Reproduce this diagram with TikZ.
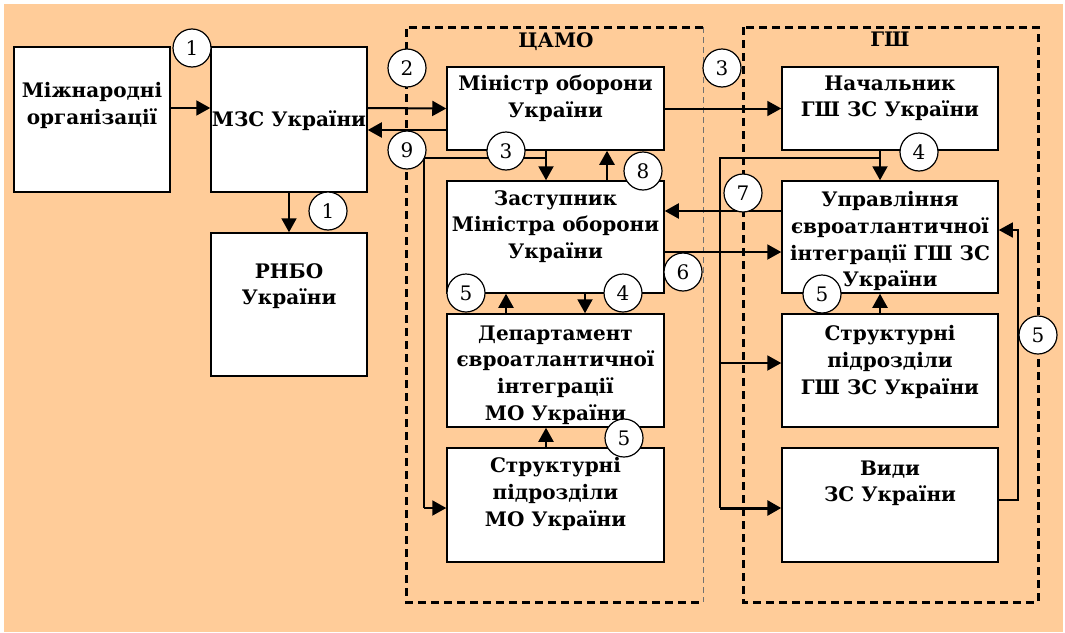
\documentclass[tikz,border=0pt]{standalone}
\usepackage{fontspec}
\setmainfont{DejaVu Serif}
\usetikzlibrary{arrows.meta}
\definecolor{peach}{HTML}{FFCC99}
\definecolor{framegray}{HTML}{707070}
\begin{document}
\begin{tikzpicture}[x=1pt,y=-1pt,
  box/.style={draw,line width=1.5pt,fill=white,inner sep=0pt,minimum width=217pt},
  boxtext/.style={anchor=north,inner sep=0pt,align=center,font=\bfseries\fontsize{20}{26.7}\selectfont},
  num/.style={circle,draw,line width=1.2pt,fill=white,minimum size=38pt,inner sep=0pt,font=\fontsize{20}{20}\selectfont},
  conn/.style={line width=2pt},
  arr/.style={line width=2pt,-{Triangle[length=14pt,width=15pt]}},
  arrthin/.style={line width=1.5pt,-{Triangle[length=14pt,width=15pt]}},
  frame/.style={line width=3pt,dash pattern=on 8pt off 5pt},
]
\useasboundingbox (0,0) rectangle (1065,632);
\fill[peach] (4,4) rectangle (1063,632);

% frames
\coordinate (camoTL) at (406,27);
\coordinate (camoTR) at (703,27);
\coordinate (camoBL) at (406,602);
\coordinate (camoBR) at (703,602);
\draw[framegray,line width=1pt,dash pattern=on 6pt off 4pt] (camoTR) -- (camoBR);
\draw[frame] (camoTR) -- (camoTL) -- (camoBL) -- (camoBR);
\coordinate (gshTL) at (743,27);
\coordinate (gshBR) at (1038,602);
\draw[frame] (gshTL) rectangle (gshBR);
\node[font=\bfseries\fontsize{20}{22}\selectfont,anchor=north,inner sep=0pt] (camoL) at (556,32) {ЦАМО};
\node[font=\bfseries\fontsize{20}{22}\selectfont,anchor=north,inner sep=0pt] (gshL) at (890,32) {ГШ};

% boxes
\node[box,minimum width=156pt,minimum height=145pt] (mi) at (92,119.5) {};
\node[box,minimum width=156pt,minimum height=145pt] (mzs) at (289,119.5) {};
\node[box,minimum width=156pt,minimum height=143pt] (rnbo) at (289,304.5) {};
\node[box,minimum height=83pt] (min) at (555.5,108.5) {};
\node[box,minimum height=112pt] (zast) at (555.5,237) {};
\node[box,minimum height=113pt] (dep) at (555.5,370.5) {};
\node[box,minimum height=114pt] (smo) at (555.5,505) {};
\node[box,minimum width=216pt,minimum height=83pt] (nach) at (890,108.5) {};
\node[box,minimum width=216pt,minimum height=112pt] (upr) at (890,237) {};
\node[box,minimum width=216pt,minimum height=113pt] (sgsh) at (890,370.5) {};
\node[box,minimum width=216pt,minimum height=114pt] (vydy) at (890,505) {};

% box texts
\node[boxtext] (miT) at ([yshift=-36pt]mi.north) {Міжнародні\\організації};
\node[boxtext] (mzsT) at ([yshift=-64pt]mzs.north) {МЗС України};
\node[boxtext] (rnboT) at ([yshift=-31pt]rnbo.north) {РНБО\\України};
\node[boxtext] (minT) at ([yshift=-9pt]min.north) {Міністр оборони\\України};
\node[boxtext] (zastT) at ([yshift=-10pt]zast.north) {Заступник\\Міністра оборони\\України};
\node[boxtext] (depT) at ([yshift=-12pt]dep.north) {Департамент\\євроатлантичної\\інтеграції\\МО України};
\node[boxtext] (smoT) at ([yshift=-10pt]smo.north) {Структурні\\підрозділи\\МО України};
\node[boxtext] (nachT) at ([yshift=-9pt]nach.north) {Начальник\\ГШ ЗС України};
\node[boxtext] (uprT) at ([yshift=-11pt]upr.north) {Управління\\євроатлантичної\\інтеграції ГШ ЗС\\України};
\node[boxtext] (sgshT) at ([yshift=-12pt]sgsh.north) {Структурні\\підрозділи\\ГШ ЗС України};
\node[boxtext] (vydyT) at ([yshift=-13pt]vydy.north) {Види\\ЗС України};

% connectors
\draw[arr] ([yshift=11.5pt]mi.east) -- ([yshift=11.5pt]mzs.west);
\draw[arr] (mzs.south) -- (rnbo.north);
\draw[arr] ([yshift=11.5pt]mzs.east) -- (min.west);
\draw[arr] ([yshift=-21.5pt]min.west) -- ([yshift=-10.5pt]mzs.east);
\draw[arr] ([xshift=-9.5pt]min.south) -- ([xshift=-9.5pt]zast.north);
\draw[conn] ([xshift=-9.5pt,yshift=-7pt]min.south) -| ([xshift=-22pt,yshift=-3pt]smo.west);
\draw[arr] ([xshift=-22pt,yshift=-3pt]smo.west) -- ([yshift=-3pt]smo.west);
\draw[arr,line width=2.5pt] ([xshift=51.5pt]zast.north) -- ([xshift=51.5pt]min.south);
\draw[arr] ([xshift=29.5pt]zast.south) -- ([xshift=29.5pt]dep.north);
\draw[arr] ([xshift=-49.5pt]dep.north) -- ([xshift=-49.5pt]zast.south);
\draw[arr] ([xshift=-9.5pt]smo.north) -- ([xshift=-9.5pt]dep.south);
\draw[arr] (min.east) -- (nach.west);
\draw[arr] ([xshift=-10pt]nach.south) -- ([xshift=-10pt]upr.north);
\draw[conn] ([xshift=-10pt,yshift=-7pt]nach.south) -| ([xshift=-61pt,yshift=-3pt]vydy.west);
\draw[arr,line width=3pt] ([xshift=-61pt,yshift=-3pt]vydy.west) -- ([yshift=-3pt]vydy.west);
\draw[arr] ([xshift=-61pt,yshift=7.5pt]sgsh.west) -- ([yshift=7.5pt]sgsh.west);
\draw[arr] ([yshift=26pt]upr.west) -- ([yshift=26pt]zast.east);
\draw[arr] ([yshift=-15pt]zast.east) -- ([yshift=-15pt]upr.west);
\draw[arr] ([xshift=-10pt]sgsh.north) -- ([xshift=-10pt]upr.south);
\draw[arrthin] ([yshift=5pt]vydy.east) -| ([xshift=19pt,yshift=7pt]upr.east) -- ([yshift=7pt]upr.east);

% number circles
\node[num] (c1a) at (192,48) {1};
\node[num] (c1b) at (328,211) {1};
\node[num] (c2) at (407,68) {2};
\node[num] (c9) at (407,150) {9};
\node[num] (c3a) at (506,151) {3};
\node[num] (c8) at (643,171) {8};
\node[num] (c6) at (683,272) {6};
\node[num] (c5a) at (466,293) {5};
\node[num] (c4a) at (623,293) {4};
\node[num] (c5b) at (624,438) {5};
\node[num] (c3b) at (722,68) {3};
\node[num] (c4b) at (919,152) {4};
\node[num] (c7) at (743,193) {7};
\node[num] (c5c) at (822,294) {5};
\node[num] (c5d) at (1038,335) {5};
\end{tikzpicture}
\end{document}
